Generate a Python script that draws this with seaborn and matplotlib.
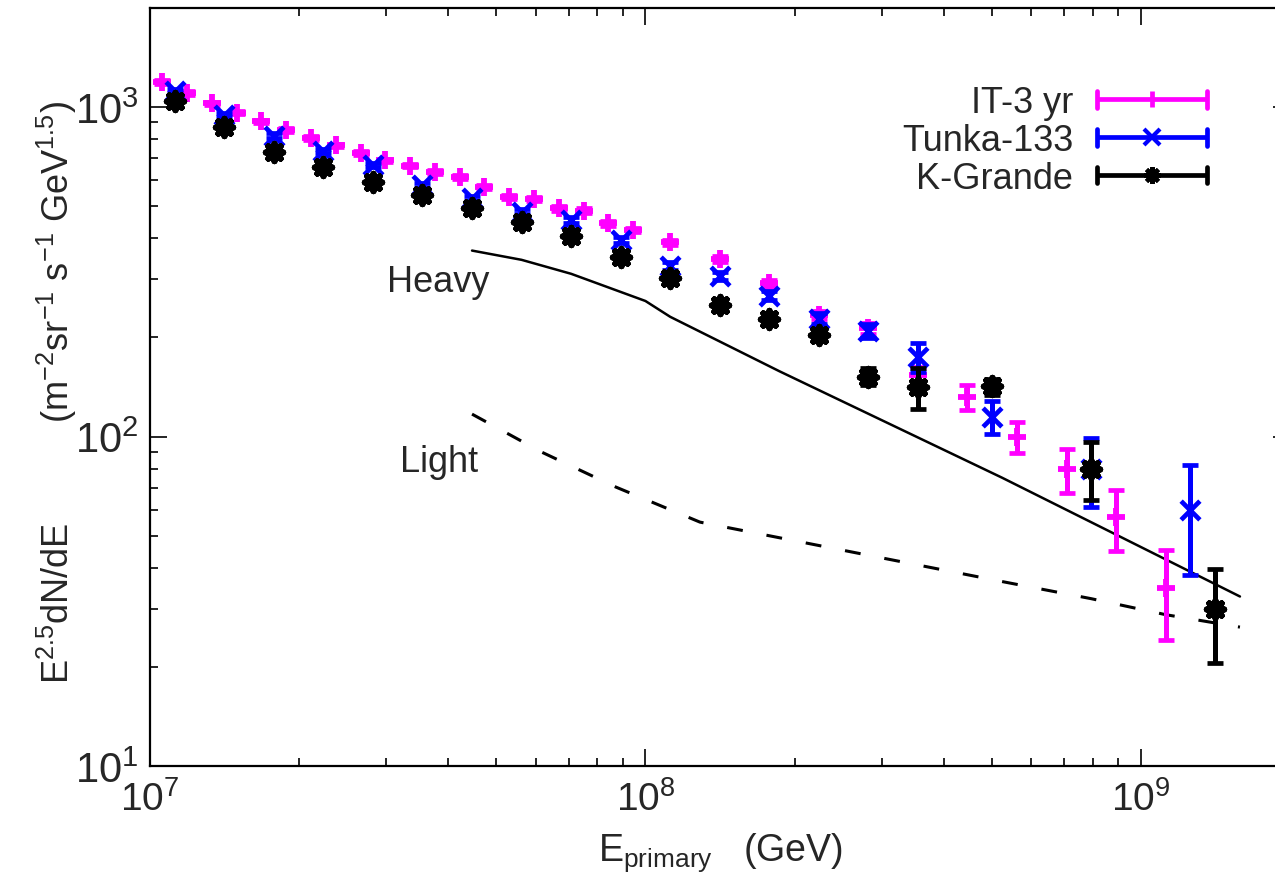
import numpy as np
import matplotlib
matplotlib.use("Agg")
import matplotlib.pyplot as plt
import seaborn as sns
from matplotlib.lines import Line2D
from matplotlib.legend_handler import HandlerBase
from matplotlib.ticker import LogLocator, NullFormatter

# ---------------------------------------------------------------- data
# IceTop 3-year spectrum (log10 E/GeV, flux scaled by E^2.5, symmetric error)
it_logE = [7.025, 7.075, 7.125, 7.175, 7.225, 7.275, 7.325, 7.375, 7.425, 7.475,
           7.525, 7.575, 7.625, 7.675, 7.725, 7.775, 7.825, 7.875, 7.925, 7.975,
           8.05, 8.15, 8.25, 8.35, 8.45, 8.55, 8.65, 8.75, 8.85, 8.95, 9.05]
it_flux = [1191, 1103, 1028, 963, 905, 853, 805, 765, 725, 689,
           665, 635, 613, 574, 535, 526, 493, 485, 444, 424,
           389, 346, 292, 234, 213, 154, 132, 100, 79.6, 57.0, 34.7]
it_err = [14, 13, 12, 11, 11, 10, 10, 9, 9, 9,
          9, 8, 8, 8, 8, 8, 8, 8, 7, 7,
          7, 7, 7, 7, 8, 9, 11.5, 11.0, 12.0, 12.0, 10.6]

# Tunka-133
tunka_logE = [7.05, 7.15, 7.25, 7.35, 7.45, 7.55, 7.65, 7.75, 7.85, 7.95,
              8.05, 8.15, 8.25, 8.35, 8.45, 8.55, 8.70, 8.90, 9.10]
tunka_flux = [1121, 948, 820, 737, 668, 580, 529, 482, 454, 395,
              330, 308, 268, 228, 209, 175, 115, 80, 60]
tunka_err = [18, 15, 13, 12, 11, 10, 10, 9, 9, 9,
             9, 9, 9, 9, 10, 18, 13, 19, 22]

# KASCADE-Grande
kg_logE = [7.05, 7.15, 7.25, 7.35, 7.45, 7.55, 7.65, 7.75, 7.85, 7.95,
           8.05, 8.15, 8.25, 8.35, 8.45, 8.55, 8.70, 8.90, 9.15]
kg_flux = [1045, 873, 730, 660, 594, 541, 493, 449, 405, 352,
           302, 251, 228, 203, 152, 141, 142, 80, 30]
kg_err = [14, 12, 10, 9, 8, 8, 8, 8, 8, 8,
          8, 7, 7, 8, 9, 20, 8, 16, 9.5]

# Model expectations for heavy and light primaries
heavy_logE = [7.65, 7.75, 7.85, 8.00, 8.05, 8.27, 8.72, 9.20]
heavy_flux = [367, 344, 312, 258, 231, 158, 75, 32.7]
light_logE = [7.65, 7.79, 7.94, 8.11, 8.72, 8.90, 9.05, 9.20]
light_flux = [117, 89.8, 70.3, 55.0, 36.3, 32.2, 28.8, 26.4]

series_labels = ["IT-3 yr", "Tunka-133", "K-Grande"]
series_colors = ["#ff00ff", "#0000ff", "#000000"]
curve_labels = ["Heavy", "Light"]

# ---------------------------------------------------------------- style
sns.set_theme(style="ticks")
plt.rcParams["font.family"] = ["Liberation Sans", "DejaVu Sans"]
plt.rcParams["mathtext.fontset"] = "custom"
plt.rcParams["mathtext.rm"] = "Liberation Sans"
plt.rcParams["mathtext.it"] = "Liberation Sans:italic"
plt.rcParams["mathtext.default"] = "regular"

W, H = 1275, 887
fig = plt.figure(figsize=(W / 100, H / 100), dpi=100)
fig.patch.set_facecolor("white")
# plot frame in pixels: left 150, right 1290 (just beyond the canvas), top 9, bottom 767
ax = fig.add_axes([150 / W, (H - 767) / H, 1140 / W, 758 / H])
ax.set_facecolor("white")

ax.set_xscale("log")
ax.set_yscale("log")
ax.set_xlim(1e7, 2e9)
ax.set_ylim(10, 2000)

# ---------------------------------------------------------------- curves
sns.lineplot(x=10 ** np.array(heavy_logE), y=heavy_flux, ax=ax, color="black",
             lw=1.8, zorder=1.5, sort=False, estimator=None)
sns.lineplot(x=10 ** np.array(light_logE), y=light_flux, ax=ax, color="black",
             lw=2.2, dashes=False, zorder=1.5, sort=False, estimator=None)
ax.lines[-1].set_dashes((5.2, 7.9))

# ---------------------------------------------------------------- data sets
markers = ["+", "x", (8, 2, 0)]
msizes = [12.5, 13.5, 12.5]
mews = [4.2, 3.4, 4.4]
datasets = [(it_logE, it_flux, it_err), (tunka_logE, tunka_flux, tunka_err),
            (kg_logE, kg_flux, kg_err)]
for i, ((le, fl, er), col, mk, ms, mw) in enumerate(
        zip(datasets, series_colors, markers, msizes, mews)):
    E = 10 ** np.array(le)
    z = 2 + i
    ax.errorbar(E, fl, yerr=er, fmt="none", ecolor=col, elinewidth=3.6,
                capsize=6, capthick=3.4, zorder=z)
    sns.scatterplot(x=E, y=fl, ax=ax, marker=mk, s=ms ** 2, color=col,
                    linewidth=mw, zorder=z + 0.5, legend=False)

# ---------------------------------------------------------------- labels on curves
ax.text(3.01e7, 296, curve_labels[0], fontsize=26, va="center", ha="left")
ax.text(3.2e7, 84, curve_labels[1], fontsize=26, va="center", ha="left")

# ---------------------------------------------------------------- axes decoration
for s in ax.spines.values():
    s.set_linewidth(1.6)
    s.set_color("black")

ax.xaxis.set_major_locator(LogLocator(base=10, numticks=10))
ax.xaxis.set_minor_locator(LogLocator(base=10, subs=np.arange(2, 10), numticks=20))
ax.yaxis.set_major_locator(LogLocator(base=10, numticks=10))
ax.yaxis.set_minor_locator(LogLocator(base=10, subs=np.arange(2, 10), numticks=20))
ax.xaxis.set_minor_formatter(NullFormatter())
ax.yaxis.set_minor_formatter(NullFormatter())

ax.tick_params(which="both", direction="in", top=True, right=True,
               color="black", width=1.2)
ax.tick_params(which="major", length=12)
ax.tick_params(which="minor", length=6)
ax.tick_params(axis="y", which="major", labelsize=30, pad=8)
ax.tick_params(axis="x", which="major", labelsize=28, pad=10)

ax.set_xlabel(r"E$_{\rm primary}$   (GeV)", fontsize=27)
ax.xaxis.set_label_coords(0.5, -0.085)
ax.xaxis.label.set_va("top")
ax.set_ylabel(r"E$^{2.5}$dN/dE" + " " * 10 +
              r"(m$^{-2}$sr$^{-1}$ s$^{-1}$ GeV$^{1.5}$)", fontsize=26)
ax.yaxis.set_label_coords(-0.062, 0.494)


# ---------------------------------------------------------------- legend
class ErrorbarKey(HandlerBase):
    """Horizontal line with end caps and the point symbol in the middle."""

    def create_artists(self, legend, orig_handle, xdescent, ydescent,
                       width, height, fontsize, trans):
        col = orig_handle.get_color()
        y = height / 2 - ydescent
        x0, x1 = -xdescent, -xdescent + width
        cap = 6.0
        arts = [
            Line2D([x0, x1], [y, y], color=col, lw=3.4, solid_capstyle="butt"),
            Line2D([x0, x0], [y - cap, y + cap], color=col, lw=3.4),
            Line2D([x1, x1], [y - cap, y + cap], color=col, lw=3.4),
            Line2D([(x0 + x1) / 2], [y], color=col, ls="none",
                   marker=orig_handle.get_marker(),
                   markersize=orig_handle.get_markersize(),
                   markeredgewidth=orig_handle.get_markeredgewidth()),
        ]
        for a in arts:
            a.set_transform(trans)
        return arts


proxies = []
for col, mk, ms, mw in zip(series_colors, markers, msizes, mews):
    if mk == "+":
        proxies.append(Line2D([], [], color=col, marker="|",
                              markersize=12, markeredgewidth=3.4))
    else:
        proxies.append(Line2D([], [], color=col, marker=mk,
                              markersize=12, markeredgewidth=3.0))
leg = ax.legend(proxies, series_labels, handler_map={Line2D: ErrorbarKey()},
                loc="upper right", bbox_to_anchor=(1207 / W, 1 - 86 / H),
                bbox_transform=fig.transFigure, frameon=False, fontsize=26,
                markerfirst=False, handlelength=3.05, handletextpad=0.66,
                labelspacing=0.08, borderpad=0, borderaxespad=0)

fig.savefig("out.png", dpi=100, facecolor="white")
